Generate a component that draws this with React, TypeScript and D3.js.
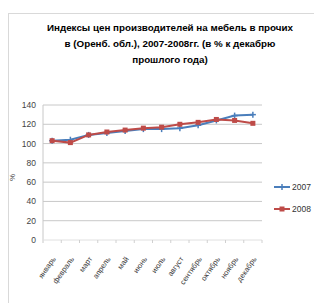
import React from "react";
import * as d3 from "d3";

const months = ["январь","февраль","март","апрель","май","июнь","июль","август","сентябрь","октябрь","ноябрь","декабрь"];
const v2007 = [103, 104, 109, 111, 113, 115, 115, 116, 119, 124, 129, 130];
const v2008 = [103, 101, 109, 112, 114, 116, 117, 120, 122, 125, 124, 121];
const yTicks = [0, 20, 40, 60, 80, 100, 120, 140];
const titleLines = [
  "Индексы цен производителей на мебель в прочих",
  "в (Оренб. обл.), 2007-2008гг. (в % к декабрю",
  "прошлого года)",
];
const seriesNames = ["2007", "2008"];

export default function App() {
  const W = 314, H = 303;
  const left = 43, right = 262, top = 105, bottom = 240;
  const x = d3.scaleBand().domain(months).range([left, right]);
  const y = d3.scaleLinear().domain([0, 140]).range([bottom, top]);
  const line = d3.line<number>().x((_, i) => (x(months[i]) as number) + x.bandwidth() / 2).y(d => y(d));
  const blue = "#4a7ebb", red = "#be4b48";
  const font = "'Liberation Sans Narrow', 'Liberation Sans', Arial, sans-serif";
  const cx = (i: number) => (x(months[i]) as number) + x.bandwidth() / 2;
  return (
    <svg width={W} height={H} style={{ position: "absolute", left: 0, top: 0, background: "#fff" }}>
      <rect x={8.5} y={13.5} width={330} height={320} fill="#fff" stroke="#d9d9d9" />
      {titleLines.map((t, i) => (
        <text key={i} x={170} y={31 + i * 16} textAnchor="middle" fontFamily={font} fontWeight="bold" fontSize={9.8} fill="#000">{t}</text>
      ))}
      {yTicks.map(t => (
        <g key={t}>
          {t > 0 && <line x1={left} x2={right} y1={y(t)} y2={y(t)} stroke="#c8c8c8" strokeWidth={1} />}
          <text x={36} y={y(t) + 3} textAnchor="end" fontFamily={font} fontSize={8.5} fill="#444">{t}</text>
        </g>
      ))}
      <line x1={left} x2={left} y1={top} y2={bottom + 3} stroke="#c8c8c8" />
      <line x1={left} x2={right} y1={bottom} y2={bottom} stroke="#e0e0e0" />
      {months.map((m, i) => (
        <line key={"t" + i} x1={(x(m) as number) + x.bandwidth()} x2={(x(m) as number) + x.bandwidth()} y1={bottom} y2={bottom + 3} stroke="#d0d0d0" />
      ))}
      <text transform={`translate(15,${(top + bottom) / 2 + 5}) rotate(-90)`} textAnchor="middle" fontFamily={font} fontSize={8} fill="#444">%</text>
      {months.map((m, i) => (
        <text key={m} transform={`translate(${cx(i) + 4},${bottom + 19}) rotate(-55)`} textAnchor="end" fontFamily={font} fontSize={7.5} fill="#333">{m}</text>
      ))}
      <path d={line(v2007) || ""} fill="none" stroke={blue} strokeWidth={2} />
      {v2007.map((v, i) => (
        <g key={"b" + i} stroke={blue} strokeWidth={1.5}>
          <line x1={cx(i) - 3} x2={cx(i) + 3} y1={y(v)} y2={y(v)} />
          <line x1={cx(i)} x2={cx(i)} y1={y(v) - 3} y2={y(v) + 3} />
        </g>
      ))}
      <path d={line(v2008) || ""} fill="none" stroke={red} strokeWidth={2} />
      {v2008.map((v, i) => (
        <rect key={"r" + i} x={cx(i) - 2.5} y={y(v) - 2.5} width={5} height={5} fill={red} />
      ))}
      {seriesNames.map((s, i) => {
        const ly = 187 + i * 22;
        const c = i === 0 ? blue : red;
        return (
          <g key={s}>
            <line x1={274} x2={290} y1={ly} y2={ly} stroke={c} strokeWidth={2} />
            {i === 0 ? (
              <g stroke={c} strokeWidth={1.5}>
                <line x1={279} x2={285} y1={ly} y2={ly} />
                <line x1={282} x2={282} y1={ly - 3} y2={ly + 3} />
              </g>
            ) : (
              <rect x={279.5} y={ly - 2.5} width={5} height={5} fill={c} />
            )}
            <text x={292} y={ly + 3} fontFamily={font} fontSize={8.5} fill="#333">{s}</text>
          </g>
        );
      })}
    </svg>
  );
}
